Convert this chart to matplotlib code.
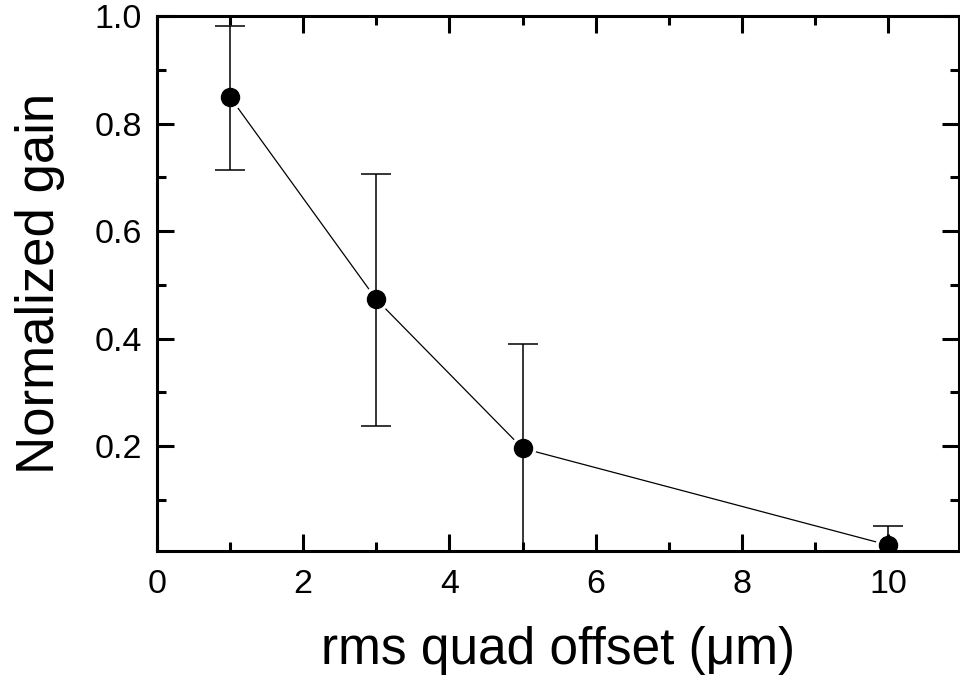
import matplotlib
matplotlib.use("Agg")
import matplotlib.pyplot as plt
from matplotlib.ticker import MultipleLocator

offset = [1, 3, 5, 10]
gain = [0.849, 0.473, 0.196, 0.016]
err_low = [0.136, 0.236, 0.21, 0.016]
err_high = [0.133, 0.234, 0.194, 0.035]

plt.rcParams['font.family'] = ['Liberation Sans', 'DejaVu Sans']

fig = plt.figure(figsize=(9.6, 6.86), dpi=100)
ax = fig.add_axes([0.1635, 0.1968, 0.999 - 0.1635, 0.9767 - 0.1968])

ax.plot(offset, gain, color='black', lw=0.9, zorder=1)
ax.plot(offset, gain, 'o', ms=17.5, mfc='white', mec='white', zorder=1.5)
ax.errorbar(offset, gain, yerr=[err_low, err_high], fmt='none', ecolor='black',
            elinewidth=1.1, capsize=11, capthick=1.1, zorder=3)
ax.plot(offset, gain, 'o', ms=13, mfc='black', mec='black', zorder=4)

ax.set_xlim(0, 10.97)
ax.set_ylim(0.005, 1.0)
ax.xaxis.set_major_locator(MultipleLocator(2))
ax.xaxis.set_minor_locator(MultipleLocator(1))
ax.yaxis.set_major_locator(MultipleLocator(0.2))
ax.yaxis.set_minor_locator(MultipleLocator(0.1))
ax.yaxis.set_major_formatter(plt.FuncFormatter(lambda v, p: f"{v:.1f}"))

ax.tick_params(which='both', direction='in', top=True, right=True, width=2.2,
               labelsize=24.5, colors='black')
ax.tick_params(which='major', length=12)
ax.tick_params(which='minor', length=6.5)
ax.tick_params(axis='x', which='major', pad=13)
ax.tick_params(axis='y', which='major', pad=11)
for s in ax.spines.values():
    s.set_linewidth(2.2)

ax.set_xlabel('rms quad offset (μm)', fontsize=37, labelpad=19)
ax.set_ylabel('Normalized gain', fontsize=38, labelpad=21)

fig.savefig('out.png', dpi=100)
